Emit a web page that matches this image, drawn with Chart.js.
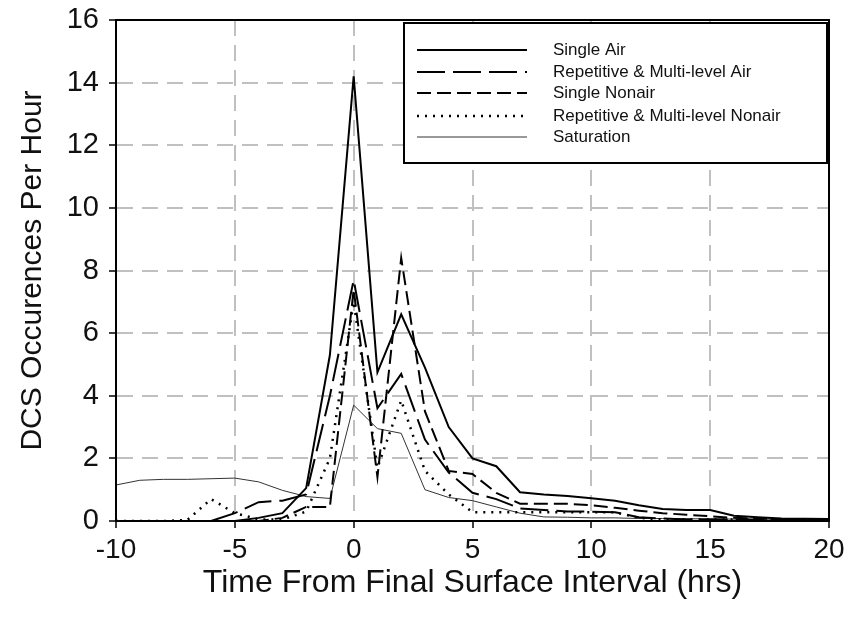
<!DOCTYPE html>
<html>
<head>
<meta charset="utf-8">
<script src="https://cdn.jsdelivr.net/npm/chart.js@4"></script>
<style>
  body { margin: 0; background: #fff; }
  canvas { display: block; }
</style>
</head>
<body>
<canvas id="dcs" width="853" height="628"></canvas>
<script>
// hours relative to final surface interval
var hours = [-10, -9, -8, -7, -6, -5, -4, -3, -2, -1, 0, 1, 2, 3, 4, 5, 6, 7, 8, 9, 10,
  11, 12, 13, 14, 15, 16, 17, 18, 19, 20];

var singleAir = [null, null, null, null, null, 0, 0.1, 0.25, 1.05, 5.3, 14.2, 4.75, 6.6, 4.9, 3.0, 2.0,
  1.75, 0.92, 0.85, 0.8, 0.73, 0.65, 0.5, 0.38, 0.35, 0.35, 0.17, 0.12, 0.08, 0.07, 0.06];
var repAir = [null, null, null, null, 0, 0.25, 0.6, 0.65, 0.85, 4.0, 7.7, 3.6, 4.7, 2.6, 1.55, 0.9,
  0.7, 0.4, 0.35, 0.3, 0.3, 0.28, 0.12, 0.08, 0.05, 0.05, 0.05, 0.04, 0.04, 0.03, 0.03];
var singleNonair = [null, null, null, null, null, 0, 0, 0.1, 0.45, 0.45, 7.4, 1.4, 8.4, 3.5, 1.6, 1.5,
  0.9, 0.55, 0.55, 0.55, 0.5, 0.42, 0.33, 0.25, 0.2, 0.15, 0.1, 0.08, 0.05, 0.04, 0.03];
var repNonair = [0, 0, 0, 0.03, 0.7, 0.25, 0.05, 0.05, 0.3, 2.0, 7.0, 1.7, 3.85, 1.6, 0.85, 0.28,
  0.28, 0.28, 0.28, 0.28, 0.28, 0.28, 0.1, 0.05, 0.05, 0.05, 0.05, 0.05, 0.05, 0.05, 0.05];
var saturation = [1.15, 1.3, 1.33, 1.33, 1.35, 1.37, 1.25, 0.98, 0.78, 0.72, 3.7, 2.95, 2.8, 1.0, 0.75, 0.65,
  0.45, 0.25, 0.13, 0.12, 0.1, 0.1, 0.08, 0.08, 0.07, 0.07, 0.06, 0.06, 0.05, 0.05, 0.05];

var seriesNames = ["Single Air", "Repetitive & Multi-level Air", "Single Nonair",
  "Repetitive & Multi-level Nonair", "Saturation"];

function pts(vals) {
  return hours.map(function (h, i) { return { x: h, y: vals[i] }; });
}

var styles = [
  { dash: [], width: 2, color: "#000" },
  { dash: [28, 8], width: 2, color: "#000" },
  { dash: [14, 6], width: 2, color: "#000" },
  { dash: [2, 6], width: 2.5, color: "#000" },
  { dash: [], width: 1, color: "#333" }
];

var allVals = [singleAir, repAir, singleNonair, repNonair, saturation];

var datasets = allVals.map(function (v, i) {
  return {
    label: seriesNames[i],
    data: pts(v),
    borderColor: styles[i].color,
    borderWidth: styles[i].width,
    borderDash: styles[i].dash,
    pointRadius: 0,
    tension: 0,
    fill: false
  };
});

// box around plot + legend panel
var frame = {
  id: "frame",
  afterDatasetsDraw: function (chart) {
    var ctx = chart.ctx, a = chart.chartArea;
    ctx.save();
    ctx.strokeStyle = "#000";
    ctx.lineWidth = 2;
    ctx.strokeRect(a.left, a.top, a.right - a.left, a.bottom - a.top);

    var lx = 404, ly = 23, lw = 423, lh = 140;
    ctx.fillStyle = "#fff";
    ctx.fillRect(lx, ly, lw, lh);
    ctx.strokeRect(lx, ly, lw, lh);
    ctx.beginPath();
    ctx.moveTo(lx + lw + 2, ly);
    ctx.lineTo(lx + lw + 2, ly + lh + 1);
    ctx.stroke();

    ctx.font = "17px 'Liberation Sans', Arial, sans-serif";
    ctx.textBaseline = "middle";
    var rows = [50, 72, 93, 116, 137];
    for (var i = 0; i < 5; i++) {
      ctx.strokeStyle = styles[i].color;
      ctx.lineWidth = styles[i].width;
      ctx.setLineDash(styles[i].dash);
      ctx.beginPath();
      ctx.moveTo(417, rows[i]);
      ctx.lineTo(527, rows[i]);
      ctx.stroke();
      ctx.setLineDash([]);
      ctx.fillStyle = "#111";
      ctx.fillText(seriesNames[i], 553, rows[i]);
    }
    ctx.restore();
  }
};

var ctx = document.getElementById("dcs").getContext("2d");
var chart = new Chart(ctx, {
  type: "line",
  data: { datasets: datasets },
  options: {
    responsive: false,
    animation: false,
    layout: { padding: { top: 20, right: 24, left: 0, bottom: 0 } },
    plugins: { legend: { display: false }, tooltip: { enabled: false } },
    scales: {
      x: {
        type: "linear",
        min: -10,
        max: 20,
        ticks: { stepSize: 5, color: "#111", padding: 5, font: { family: "'Liberation Sans', Arial", size: 28 } },
        grid: { color: "#c0c0c0", lineWidth: 2, tickColor: "#000", tickLength: 7, tickWidth: 1.5 },
        border: { color: "#000", width: 2, dash: [16, 9] },
        title: {
          display: true,
          text: "Time From Final Surface Interval (hrs)",
          color: "#111",
          padding: { bottom: 26 },
          font: { family: "'Liberation Sans', Arial", size: 32 }
        },
        afterFit: function (s) { s.height = 107; }
      },
      y: {
        min: 0,
        max: 16,
        ticks: { stepSize: 2, color: "#111", padding: 10, font: { family: "'Liberation Sans', Arial", size: 29, lineHeight: 0.5 } },
        grid: { color: "#c0c0c0", lineWidth: 2, tickColor: "#000", tickLength: 7, tickWidth: 1.5 },
        border: { color: "#000", width: 2, dash: [16, 9] },
        title: {
          display: true,
          text: "DCS Occurences Per Hour",
          color: "#111",
          padding: { top: 15 },
          font: { family: "'Liberation Sans', Arial", size: 30 }
        },
        afterFit: function (s) { s.width = 116; }
      }
    }
  },
  plugins: [frame]
});
</script>
</body>
</html>
